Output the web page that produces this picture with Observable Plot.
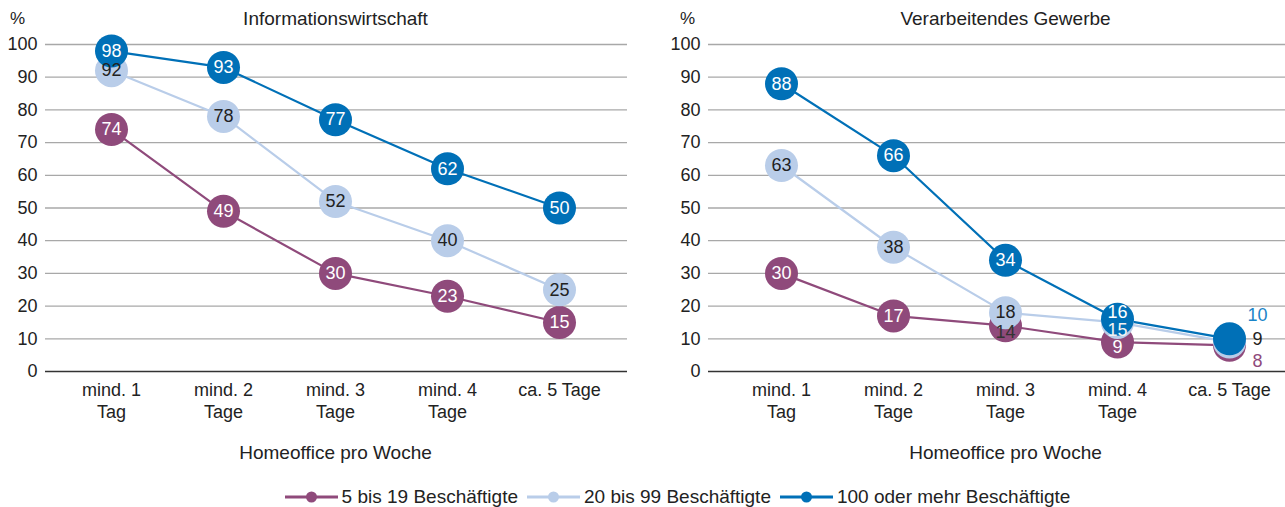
<!DOCTYPE html>
<html>
<head>
<meta charset="utf-8">
<script src="https://cdn.jsdelivr.net/npm/d3@7"></script>
<script src="https://cdn.jsdelivr.net/npm/@observablehq/plot@0.6"></script>
<style>
  body { margin: 0; background: #fff; font-family: "Liberation Sans", Arial, sans-serif; color: #222; }
  #charts { display: flex; width: 1285px; height: 470px; }
  #legend { display: flex; justify-content: center; align-items: center; gap: 9px; height: 37px; padding-top: 17px; box-sizing: border-box; font-size: 19px; width: 1285px; padding-left: 70px; }
  .item { display: flex; align-items: center; gap: 4px; }
</style>
</head>
<body>
<div id="charts"></div>
<div id="legend"></div>
<script>
const categories = ["mind. 1\nTag", "mind. 2\nTage", "mind. 3\nTage", "mind. 4\nTage", "ca. 5 Tage"];
const seriesNames = ["5 bis 19 Beschäftigte", "20 bis 99 Beschäftigte", "100 oder mehr Beschäftigte"];
const seriesColors = ["#8f4a7b", "#b9cde9", "#0070b7"];
const yTicks = [0, 10, 20, 30, 40, 50, 60, 70, 80, 90, 100];

const infoSmall = [74, 49, 30, 23, 15];
const infoMid   = [92, 78, 52, 40, 25];
const infoLarge = [98, 93, 77, 62, 50];

const manuSmall = [30, 17, 14, 9, 8];
const manuMid   = [63, 38, 18, 15, 9];
const manuLarge = [88, 66, 34, 16, 10];

const font = "Liberation Sans, Arial, sans-serif";

function labelStyle(panel, s, i) {
  let fill = s === 1 ? "#222" : "#fff", dx = 0, dy = 0;
  if (panel === "manu") {
    if (i === 4) {
      dx = 28;
      dy = [16, -3, -24][s];
      fill = ["#8f4a7b", "#222", "#1a84c8"][s];
    } else if (i === 3) {
      dy = [5, 8, -7][s];
      if (s === 1) fill = "#f2f2f2";
    } else if (i === 2 && s === 0) {
      dy = 7; fill = "#333";
    }
  }
  return {fill, dx, dy};
}

function panel(key, title, series, opts) {
  const rows = [];
  series.forEach((arr, s) => arr.forEach((v, i) => rows.push({cat: categories[i], v, s, i})));
  const labelMarks = rows.map(r => {
    const st = labelStyle(key, r.s, r.i);
    return Plot.text([r], {x: "cat", y: "v", text: d => String(d.v), fill: st.fill, dx: st.dx, dy: st.dy,
      fontSize: 18, textAnchor: "middle", lineAnchor: "middle"});
  });
  return Plot.plot({
    width: opts.width, height: 470,
    marginTop: 44, marginBottom: 99, marginLeft: opts.marginLeft, marginRight: opts.marginRight,
    style: {fontFamily: font, fontSize: "18px", color: "#222", background: "transparent", overflow: "visible"},
    x: {type: "point", domain: categories, padding: 0, insetLeft: opts.insetLeft, insetRight: opts.insetRight},
    y: {domain: [0, 100]},
    color: {type: "identity"},
    marks: [
      Plot.ruleY(yTicks.filter(d => d > 0), {stroke: "#a8a8a8", strokeWidth: 1.3}),
      Plot.ruleY([0], {stroke: "#333", strokeWidth: 1.3}),
      Plot.axisY({ticks: yTicks, tickSize: 0, tickPadding: 8, fontSize: 18, label: null, fill: "#222"}),
      Plot.axisX({tickSize: 0, tickPadding: 9, fontSize: 18, lineHeight: 1.22, label: null, fill: "#222"}),
      Plot.line(rows, {x: "cat", y: "v", z: "s", stroke: d => seriesColors[d.s], strokeWidth: 2.2}),
      Plot.dot(rows, {x: "cat", y: "v", r: 16.5, fill: d => seriesColors[d.s], stroke: "none"}),
      ...labelMarks,
      Plot.text([title], {x: () => categories[2], text: d => d, frameAnchor: "top", lineAnchor: "middle", dy: -26, fontSize: 19, fill: "#222"}),
      Plot.text(["%"], {text: d => d, frameAnchor: "top-left", lineAnchor: "middle", dx: opts.pctDx, dy: -26, fontSize: 17, fill: "#222", textAnchor: "middle"}),
      Plot.text(["Homeoffice pro Woche"], {x: () => categories[2], text: d => d, frameAnchor: "bottom", lineAnchor: "middle", dy: 81, fontSize: 19, fill: "#222"})
    ]
  });
}

const charts = document.getElementById("charts");
charts.appendChild(panel("info", "Informationswirtschaft", [infoSmall, infoMid, infoLarge],
  {width: 642, marginLeft: 45, marginRight: 15, insetLeft: 65, insetRight: 67, pctDx: -28}));
charts.appendChild(panel("manu", "Verarbeitendes Gewerbe", [manuSmall, manuMid, manuLarge],
  {width: 643, marginLeft: 66, marginRight: 0, insetLeft: 72, insetRight: 55, pctDx: -21}));

const legend = document.getElementById("legend");
seriesNames.forEach((name, s) => {
  const item = document.createElement("div");
  item.className = "item";
  item.innerHTML = `<svg width="53" height="14"><line x1="0" x2="53" y1="7" y2="7" stroke="${seriesColors[s]}" stroke-width="3"/><circle cx="26.5" cy="7" r="5.5" fill="${seriesColors[s]}"/></svg><span>${name}</span>`;
  legend.appendChild(item);
});
</script>
</body>
</html>
